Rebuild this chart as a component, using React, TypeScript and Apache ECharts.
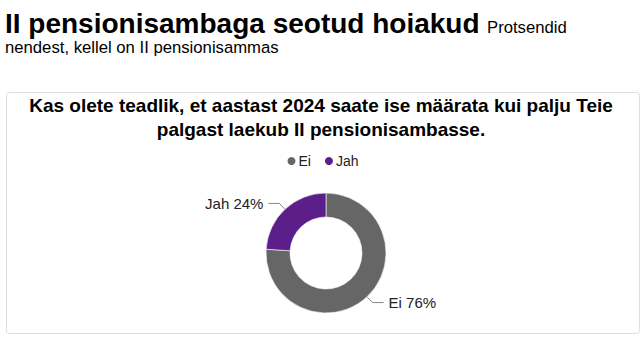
import React, { useEffect, useRef } from "react";
import * as echarts from "echarts";

const categories = ["Ei", "Jah"];
const values = [76, 24];
const colors = ["#666666", "#5c1f8a"];
const heading = "II pensionisambaga seotud hoiakud";
const subheadingA = "Protsendid";
const subheadingB = "nendest, kellel on II pensionisammas";
const titleLines = [
  "Kas olete teadlik, et aastast 2024 saate ise määrata kui palju Teie",
  "palgast laekub II pensionisambasse.",
];

const FONT = "'Liberation Sans', Arial, sans-serif";

export default function App() {
  const ref = useRef<HTMLDivElement>(null);
  useEffect(() => {
    if (!ref.current) return;
    const chart = echarts.init(ref.current, undefined, { renderer: "svg" });
    chart.setOption({
      animation: false,
      backgroundColor: "#ffffff",
      textStyle: { fontFamily: FONT },
      legend: {
        data: categories,
        top: 149,
        left: "center",
        icon: "circle",
        itemWidth: 10,
        itemHeight: 10,
        itemGap: 12,
        textStyle: { fontSize: 14, color: "#222", fontFamily: FONT, padding: [0, 0, 0, -3] },
      },
      graphic: [
        {
          type: "rect",
          shape: { x: 6.5, y: 92.5, width: 633, height: 241, r: 3 },
          style: { fill: "none", stroke: "#dddddd", lineWidth: 1 },
          silent: true,
        },
        {
          type: "text",
          x: 5,
          y: 23,
          style: {
            text: heading,
            font: `bold 28px ${FONT}`,
            fill: "#000",
            textVerticalAlign: "middle",
          },
        },
        {
          type: "text",
          x: 487,
          y: 27,
          style: {
            text: subheadingA,
            font: `16.7px ${FONT}`,
            fill: "#000",
            textVerticalAlign: "middle",
          },
        },
        {
          type: "text",
          x: 5,
          y: 47.5,
          style: {
            text: subheadingB,
            font: `16.7px ${FONT}`,
            fill: "#000",
            textVerticalAlign: "middle",
          },
        },
        ...titleLines.map((t, i) => ({
          type: "text",
          x: 321,
          y: 105 + i * 24,
          style: {
            text: t,
            font: `bold 19px ${FONT}`,
            fill: "#000",
            textAlign: "center",
            textVerticalAlign: "middle",
          },
        })),
      ],
      series: [
        {
          type: "pie",
          center: [326, 253],
          radius: [36, 60],
          startAngle: 90,
          clockwise: true,
          avoidLabelOverlap: false,
          itemStyle: { borderColor: "#ffffff", borderWidth: 0.6 },
          label: {
            show: true,
            position: "outside",
            formatter: "{b} {c}%",
            fontSize: 15,
            color: "#222",
            fontFamily: FONT,
          },
          labelLine: {
            show: true,
            length: 8,
            length2: 11,
            lineStyle: { color: "#888", width: 1 },
          },
          emphasis: { disabled: true },
          data: categories.map((c, i) => ({
            name: c,
            value: values[i],
            itemStyle: { color: colors[i] },
          })),
        },
      ],
    });
    return () => chart.dispose();
  }, []);
  return (
    <div
      ref={ref}
      style={{ position: "fixed", left: 0, top: 0, width: 644, height: 341 }}
    />
  );
}
